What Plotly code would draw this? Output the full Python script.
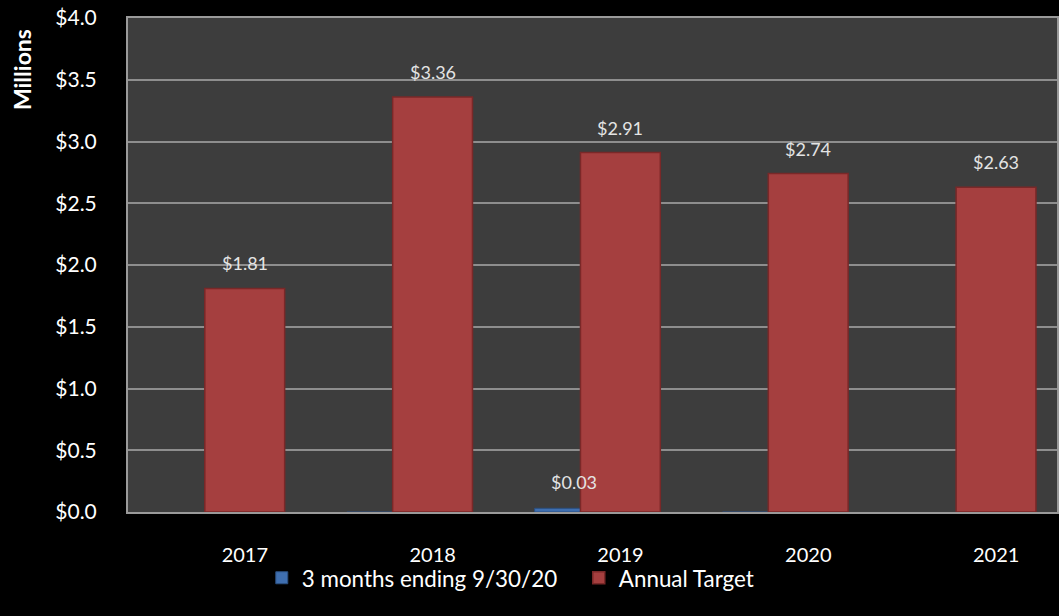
import plotly.graph_objects as go

years = ["2017", "2018", "2019", "2020", "2021"]
three_months = [None, -0.004, 0.03, -0.003, None]
annual_target = [1.81, 3.36, 2.91, 2.74, 2.63]
three_month_labels = ["", "", "$0.03", "", ""]
annual_labels = ["$1.81", "$3.36", "$2.91", "$2.74", "$2.63"]
y_ticks = [0, 0.5, 1.0, 1.5, 2.0, 2.5, 3.0, 3.5, 4.0]
y_tick_text = ["$0.0", "$0.5", "$1.0", "$1.5", "$2.0", "$2.5", "$3.0", "$3.5", "$4.0"]

FONT = "Lato"

fig = go.Figure()
fig.add_trace(go.Bar(
    x=years, y=three_months, name="3 months ending 9/30/20",
    width=0.414, offset=-0.457,
    marker=dict(color="#3f6fb0", line=dict(color="#2b4f80", width=1)),
))
fig.add_trace(go.Bar(
    x=years, y=annual_target, name="Annual Target",
    width=0.425, offset=-0.213,
    marker=dict(color="#a53f3f", line=dict(color="#7a2828", width=1.5)),
))

for i, (v, lab) in enumerate(zip(annual_target, annual_labels)):
    fig.add_annotation(x=i, y=v, text=lab, showarrow=False, yshift=25,
                       font=dict(family=FONT, size=18, color="#e4e4e4"))
for i, (v, lab) in enumerate(zip(three_months, three_month_labels)):
    if lab:
        fig.add_annotation(x=i - 0.25, y=v, text=lab, showarrow=False, yshift=26,
                           font=dict(family=FONT, size=18, color="#e4e4e4"))

fig.add_annotation(text="<b>Millions</b>", textangle=-90, showarrow=False,
                   xref="paper", yref="paper", x=-0.1139, y=0.895,
                   xanchor="center", yanchor="middle",
                   font=dict(family=FONT, size=23, color="#ffffff"))

fig.update_layout(
    width=1059, height=616,
    margin=dict(l=128, r=0, t=18, b=104),
    paper_bgcolor="#000000", plot_bgcolor="#3d3d3d",
    barmode="overlay",
    showlegend=True,
    legend=dict(orientation="h", x=0.144, xanchor="left", xref="paper",
                y=-0.134, yanchor="middle", bgcolor="rgba(0,0,0,0)",
                font=dict(family=FONT, size=22.4, color="#ffffff"),
                itemwidth=30, traceorder="normal",
                entrywidth=272, entrywidthmode="pixels"),
    font=dict(family=FONT, color="#ffffff"),
)
fig.update_xaxes(
    type="category", range=[-0.622, 4.324],
    showgrid=False, showline=True, linecolor="#9a9a9a", linewidth=2, mirror=True,
    ticks="", ticklabelstandoff=24,
    tickfont=dict(family=FONT, size=20, color="#ffffff"),
)
fig.update_yaxes(
    range=[0, 4.0], tickvals=y_ticks, ticktext=y_tick_text,
    showgrid=True, gridcolor="#8e8e8e", gridwidth=1.5,
    showline=True, linecolor="#9a9a9a", linewidth=2, mirror=True,
    zeroline=False, ticks="", ticklabelstandoff=25,
    tickfont=dict(family=FONT, size=21, color="#ffffff"),
)

fig.write_html("out.html")
